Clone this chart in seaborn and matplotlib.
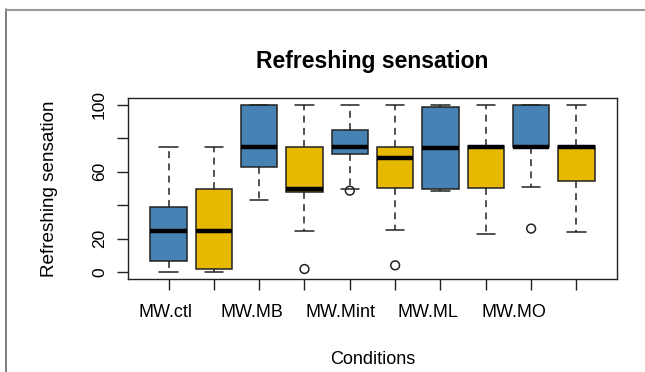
import numpy as np
import pandas as pd
import matplotlib
matplotlib.use('Agg')
import matplotlib.pyplot as plt
import seaborn as sns
from matplotlib.lines import Line2D

# Estatisticas (10 caixas, duas por condicao)
grupos = ['MW.ctl', 'MW.MB', 'MW.Mint', 'MW.ML', 'MW.MO']
caixas = ['MW.ctl.1', 'MW.ctl.2', 'MW.MB.1', 'MW.MB.2', 'MW.Mint.1',
          'MW.Mint.2', 'MW.ML.1', 'MW.ML.2', 'MW.MO.1', 'MW.MO.2']
minimo = [0, 0, 43, 24.7, 49.7, 25, 48.7, 22.5, 50.7, 23.7]
q1 = [6.6, 1.6, 62.6, 48, 70.6, 50, 49.7, 50, 74.6, 54.7]
mediana = [24.7, 24.7, 75, 49.7, 74.8, 68, 74.3, 74.8, 75, 75]
q3 = [38.7, 49.7, 100, 75, 84.8, 75, 98.6, 75.4, 100, 75.4]
maximo = [75, 75, 100, 100, 100, 100, 100, 100, 100, 100]
outliers_caixa = [3, 4, 5, 8]
outliers_valor = [1.8, 48.7, 4, 26]
cores = ['#4682B4', '#E7B800'] * 5

# posicoes dos rotulos do eixo x (como no grafico original)
pos_rotulos = [-0.07, 1.85, 3.80, 5.72, 7.62]

# monta a tabela: 7 valores por caixa reproduzem os quartis
linhas = []
for i, c in enumerate(caixas):
    for v in [minimo[i], q1[i], q1[i], mediana[i], q3[i], q3[i], maximo[i]]:
        linhas.append({'caixa': c, 'valor': v})
dados = pd.DataFrame(linhas)

sns.set_style('white')
plt.rcParams['font.family'] = ['Liberation Sans', 'DejaVu Sans']
plt.rcParams['text.color'] = 'black'
plt.rcParams['axes.labelcolor'] = 'black'
plt.rcParams['xtick.color'] = 'black'
plt.rcParams['ytick.color'] = 'black'

fig = plt.figure(figsize=(6.45, 3.72), dpi=100)
ax = fig.add_axes([0.198, 0.2508, 0.759, 0.485])

sns.boxplot(data=dados, x='caixa', y='valor', hue='caixa', order=caixas,
            hue_order=caixas, palette=cores, saturation=1, legend=False,
            width=0.8, whis=np.inf, showfliers=False, linecolor='#222222',
            linewidth=1.1, whiskerprops=dict(linestyle=(0, (4.5, 3.5))),
            medianprops=dict(color='black', linewidth=3.2), ax=ax)

ax.scatter(outliers_caixa, outliers_valor, s=40, facecolors='none',
           edgecolors='#222222', linewidths=1.1, zorder=5)

ax.set_xlim(-0.9, 9.9)
ax.set_ylim(-4, 104)

ax.set_xticks(range(len(caixas)))
ax.set_xticklabels([''] * len(caixas))
ax.set_xticks(pos_rotulos, minor=True)
ax.set_xticklabels(grupos, minor=True, fontsize=13)
ax.tick_params(axis='x', which='major', bottom=True, direction='out',
               length=8, width=1, color='#222222')
ax.tick_params(axis='x', which='minor', bottom=True, length=0, pad=18)

ax.set_yticks([0, 20, 40, 60, 80, 100])
ax.set_yticklabels(['0', '20', '', '60', '', '100'], rotation=90,
                   va='center', fontsize=12.5)
ax.tick_params(axis='y', left=True, direction='out', length=8, width=1,
               color='#222222', pad=7)

for s in ax.spines.values():
    s.set_visible(True)
    s.set_color('#222222')
    s.set_linewidth(1)

ax.set_title('Refreshing sensation', fontsize=16.5, fontweight='bold', pad=22)
ax.set_xlabel('Conditions', fontsize=13)
ax.set_ylabel('Refreshing sensation', fontsize=13.6)
ax.xaxis.set_label_coords(0.5, -0.40)
ax.yaxis.set_label_coords(-0.142, 0.5)

# moldura cinza da imagem original
fig.add_artist(Line2D([6 / 645, 6 / 645], [0, 1 - 9 / 372],
                      transform=fig.transFigure, color='#666666', lw=1.2))
fig.add_artist(Line2D([6 / 645, 1], [1 - 9.5 / 372, 1 - 9.5 / 372],
                      transform=fig.transFigure, color='#999999', lw=1.5))

fig.savefig('out.png', dpi=100)
